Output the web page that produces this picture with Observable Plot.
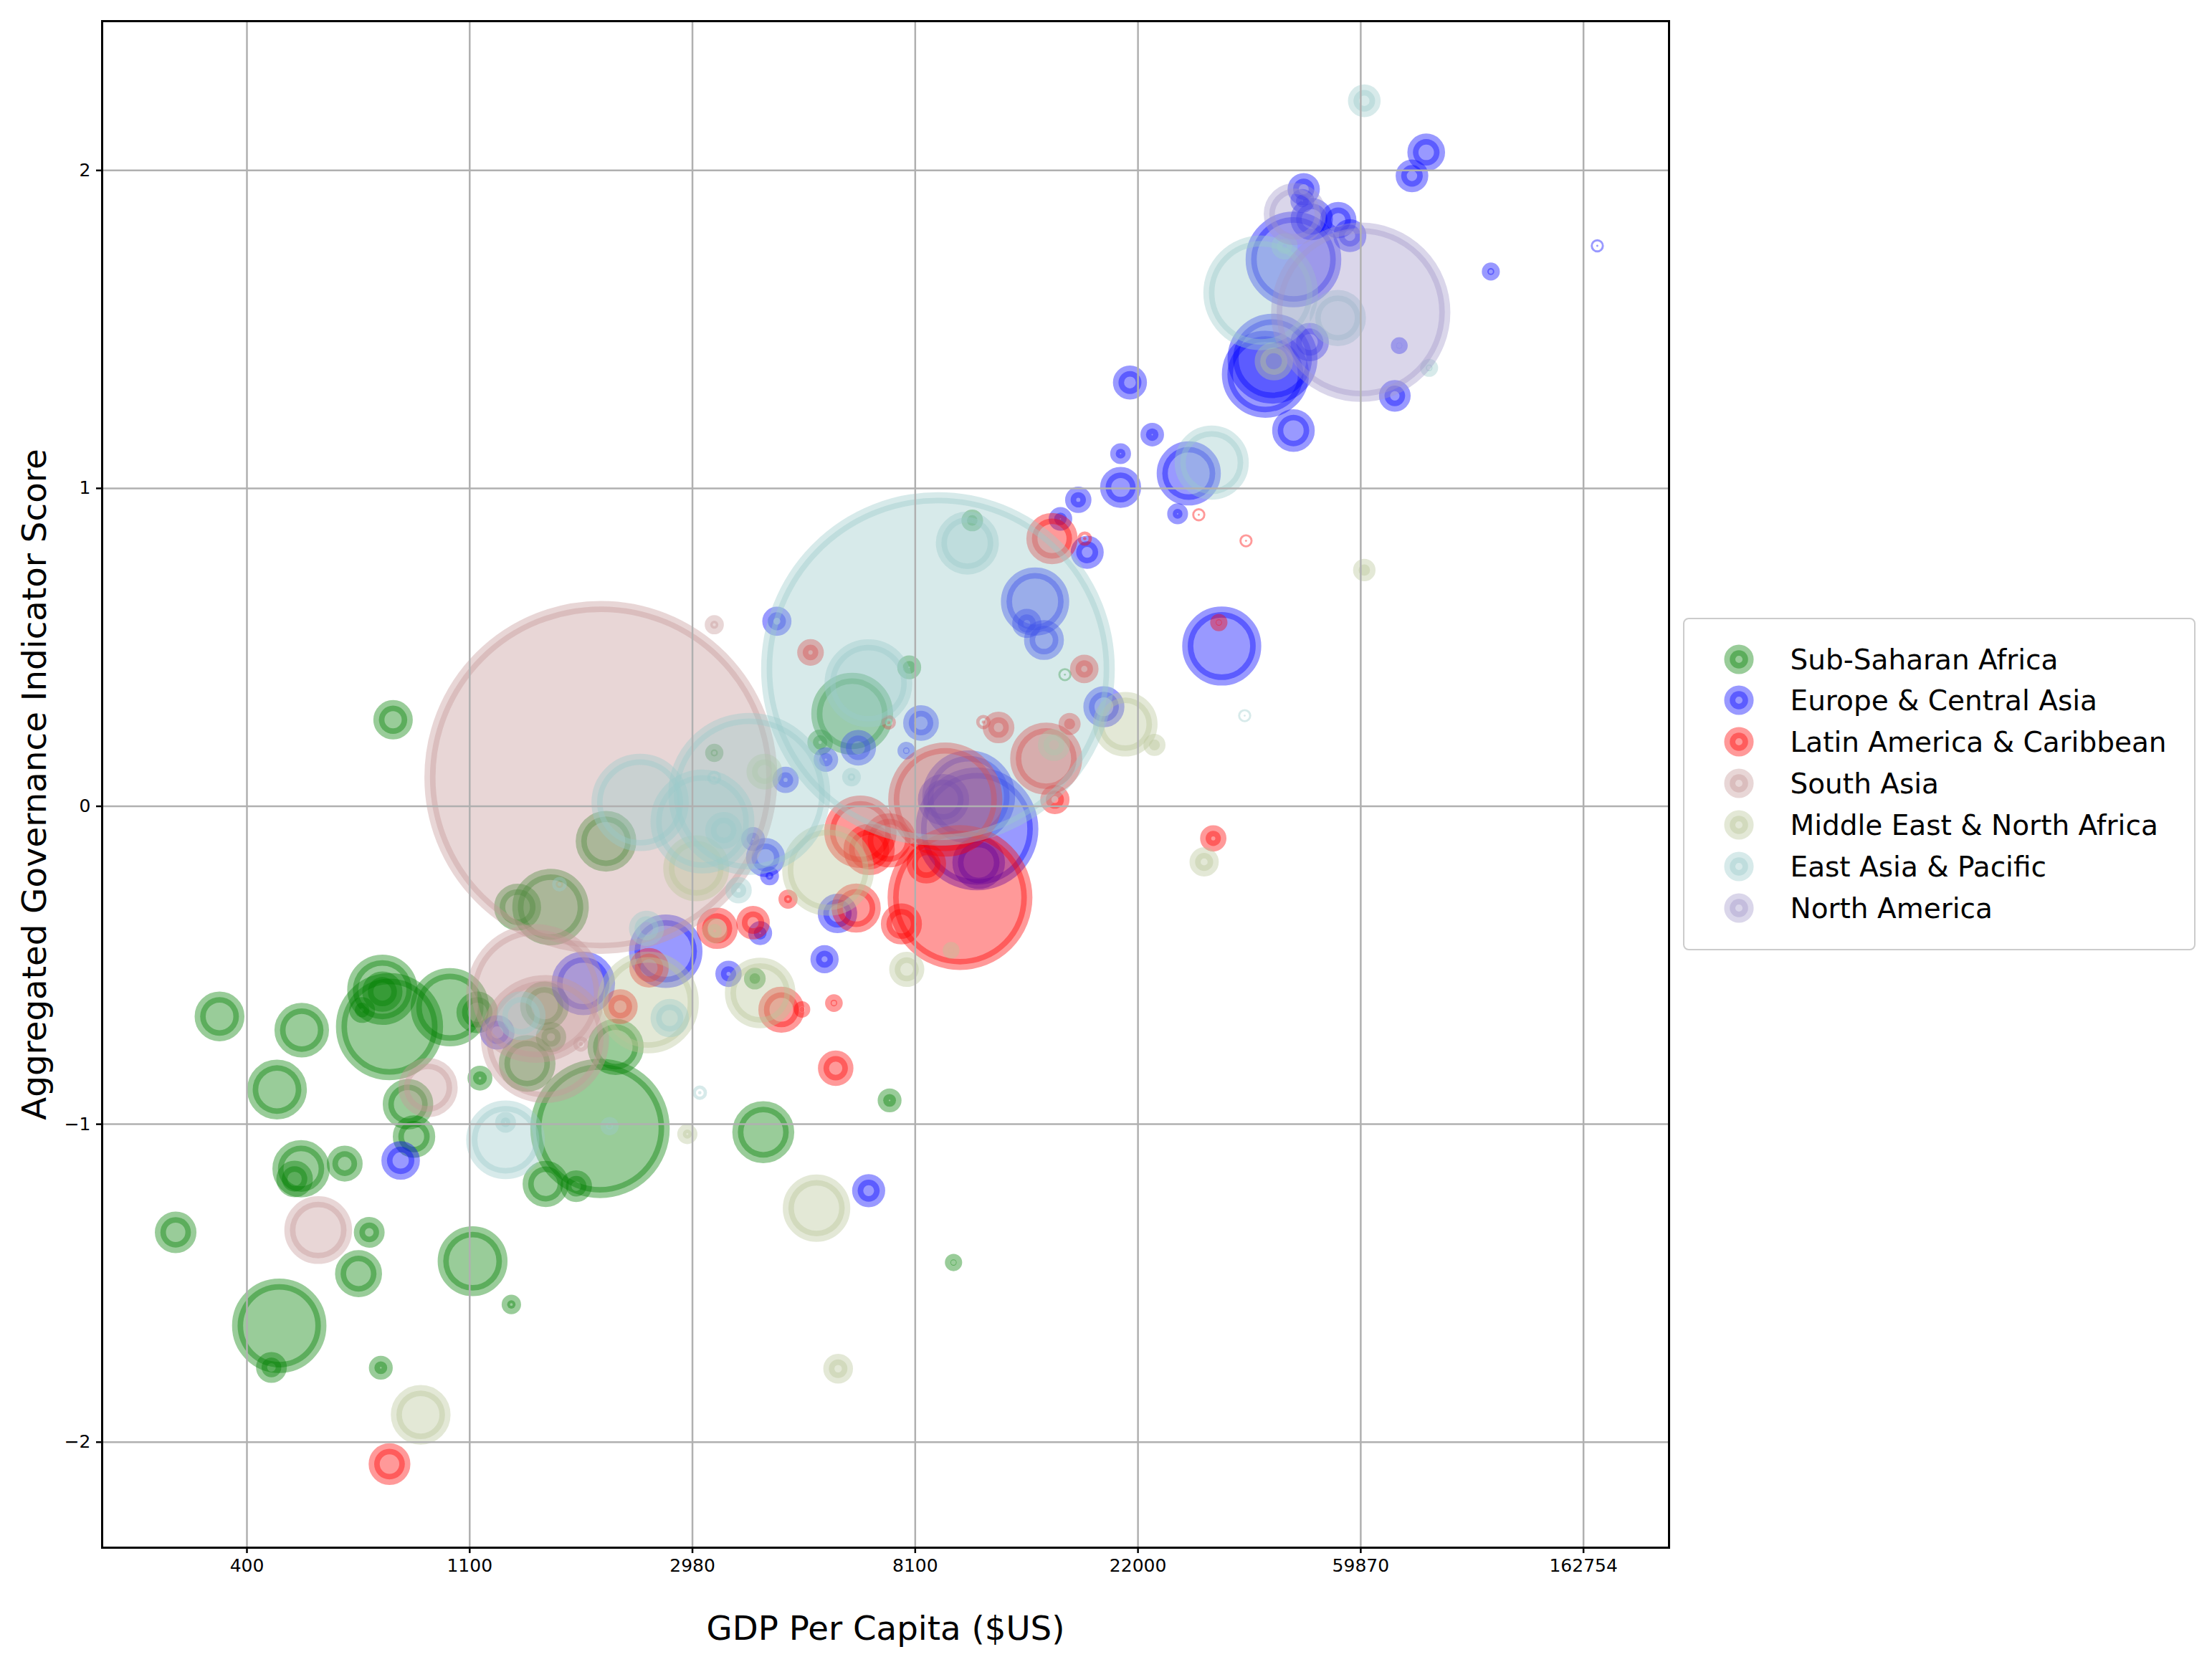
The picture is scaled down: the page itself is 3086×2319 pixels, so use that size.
<!DOCTYPE html>
<html><head><meta charset="utf-8">
<script src="https://cdn.jsdelivr.net/npm/d3@7"></script>
<script src="https://cdn.jsdelivr.net/npm/@observablehq/plot@0.6"></script>
<style>
html,body{margin:0;padding:0;background:#fff;overflow:hidden;}
#wrap{position:relative;width:3086px;height:2319px;font-family:"DejaVu Sans",sans-serif;}
#legend{position:absolute;left:2348px;top:862px;width:715px;height:464px;box-sizing:border-box;border:2.5px solid #cccccc;border-radius:8px;background:#fff;}
#legend span{position:absolute;font-size:39px;line-height:1;white-space:nowrap;color:#000;}
</style></head><body><div id="wrap"></div>
<script>
const regions = ["Sub-Saharan Africa","Europe & Central Asia","Latin America & Caribbean","South Asia","Middle East & North Africa","East Asia & Pacific","North America"];
const regionColors = ["#008000","#0000ff","#ff0000","#c59898","#b9c698","#9bcbcb","#a298ca"];
const xTickValues = [6,7,8,9,10,11,12];
const xTickLabels = ["400","1100","2980","8100","22000","59870","162754"];
const yTickValues = [-2,-1,0,1,2];
const yTickLabels = ["\u22122","\u22121","0","1","2"];

// [ln(GDP per capita), governance score, population (millions)]
const subSaharanAfrica = [
[5.877,-0.661,17.4],[6.246,-0.704,21.9],[6.135,-0.891,27.4],[6.243,-1.140,24.8],[6.214,-1.172,7.5],
[6.439,-1.124,7.1],[5.680,-1.340,10.8],[6.549,-1.340,4.5],[6.501,-1.470,14.9],[6.145,-1.634,80.4],
[6.110,-1.765,4.5],[6.601,-1.766,1.9],[7.013,-1.431,40.0],[7.187,-1.567,0.8],[7.046,-0.855,2.2],
[6.750,-1.039,11.4],[6.723,-0.937,18.0],[7.585,-1.013,190.8],[7.341,-1.188,14.2],[7.478,-1.195,4.9],
[6.640,-0.693,106.9],[6.608,-0.577,40.6],[6.608,-0.583,9.8],[6.517,-0.641,2.5],[6.911,-0.632,52.4],
[7.034,-0.648,10.8],[7.612,-0.110,28.5],[7.363,-0.317,49.5],[7.215,-0.317,14.9],[7.258,-0.809,24.1],
[7.365,-0.726,4.3],[7.336,-0.628,16.5],[7.655,-0.757,23.6],[8.318,-1.025,30.0],[8.280,-0.542,1.3],
[8.098,0.168,0.6],[6.656,0.272,9.3],[8.573,0.201,2.4],[8.717,0.291,57.9],[8.973,0.437,1.9],
[9.256,0.899,1.3],[9.672,0.414,0.05],[8.885,-0.925,1.9],[9.172,-1.435,0.44]
];
const europeCentralAsia = [
[6.690,-1.114,8.7],[7.124,-0.711,6.3],[7.510,-0.557,31.9],[7.880,-0.456,45.1],[8.328,-0.161,9.1],
[8.346,-0.219,0.7],[8.162,-0.527,2.7],[8.304,-0.399,1.9],[8.272,-0.103,1.9],[8.379,0.582,3.8],
[8.418,0.083,2.7],[8.599,0.147,2.1],[8.744,0.184,7.0],[9.026,0.262,7.0],[8.960,0.175,0.5],
[8.651,-0.337,9.3],[8.593,-0.481,3.4],[8.791,-1.209,5.6],[9.240,0.030,77.4],[9.277,-0.071,144.9],
[9.285,-0.177,20.0],[9.127,0.021,18.7],[9.652,0.904,1.8],[9.772,0.799,5.6],[9.732,0.964,2.7],
[9.922,1.003,10.4],[9.922,1.109,1.1],[10.064,1.169,1.8],[10.228,1.047,32.6],[10.178,0.920,1.1],
[10.376,0.504,53.5],[9.538,0.644,37.9],[9.501,0.575,3.8],[9.578,0.523,9.6],[9.847,0.313,10.4],
[9.964,1.333,6.1],[11.294,2.057,8.2],[11.230,1.983,5.4],[11.584,1.682,0.55],[12.062,1.763,0.05],
[11.173,1.449,0.38],[11.153,1.291,4.9],[10.698,1.720,82.9],[10.744,1.941,5.2],[10.738,1.904,1.9],
[10.780,1.847,11.3],[10.899,1.844,7.4],[10.951,1.795,5.6],[10.604,1.408,72.0],[10.572,1.359,66.9],
[10.771,1.460,8.6],[10.698,1.182,11.5]
];
const latinAmericaCaribbean = [
[6.640,-2.069,10.9],[7.805,-0.508,9.3],[7.676,-0.630,6.5],[8.111,-0.384,10.5],[8.272,-0.366,5.8],
[8.429,-0.292,0.75],[8.399,-0.640,14.1],[8.492,-0.639,0.33],[8.635,-0.619,0.5],[8.735,-0.320,16.8],
[8.643,-0.824,6.9],[8.754,-0.080,43.4],[8.793,-0.136,18.7],[8.883,-0.107,21.4],[8.938,-0.370,10.4],
[9.050,-0.181,9.3],[9.135,0.021,123.1],[9.201,-0.287,207.3],[9.627,0.021,3.8],[9.588,0.150,43.0],
[9.614,0.842,18.7],[9.761,0.842,0.13],[8.530,0.484,2.8],[8.881,0.264,0.13],[9.374,0.248,4.9],
[9.306,0.265,0.13],[9.693,0.259,1.4],[9.759,0.432,3.5],[10.273,0.917,0.05],[10.485,0.835,0.05],
[10.363,0.578,0.44],[10.338,-0.101,2.7]
];
const southAsia = [
[7.589,0.091,1354.6],[7.296,-0.589,188.6],[7.338,-0.732,158.6],[6.813,-0.885,26.9],[6.320,-1.333,37.2],
[7.499,-0.748,0.2],[8.098,0.571,0.75]
];
const middleEastNorthAfrica = [
[6.780,-1.914,27.4],[7.800,-0.617,95.4],[8.017,-0.195,34.9],[8.323,0.109,7.1],[8.100,-0.392,2.3],
[8.304,-0.587,41.0],[7.977,-1.031,0.95],[8.609,-0.200,75.5],[8.962,-0.513,6.7],[8.557,-1.264,36.8],
[8.654,-1.769,4.0],[9.161,-0.453,0.38],[9.623,0.193,5.1],[9.943,0.258,33.1],[10.074,0.193,1.4],
[10.297,-0.175,3.8],[11.016,0.743,1.5],[10.610,1.400,8.6]
];
const eastAsiaPacific = [
[9.102,0.432,1360],[8.255,0.039,264],[7.765,0.012,86],[8.045,-0.048,99.7],[7.161,-1.049,52.8],
[7.161,-0.994,1.1],[7.628,-1.006,0.6],[7.403,-0.245,0.15],[7.231,-0.659,16.5],[7.794,-0.384,6.7],
[7.898,-0.666,8.6],[8.033,-0.901,0.13],[8.207,-0.264,2.7],[8.098,0.090,0.1],[8.140,-0.076,7.7],
[8.714,0.092,0.67],[8.790,0.387,68.2],[9.234,0.828,31.2],[10.331,1.081,46.1],[10.551,1.615,124.5],
[10.897,1.536,23.6],[11.016,2.219,5.4],[11.307,1.379,0.55],[10.479,0.285,0.05],[10.658,1.761,2.7]
];
const northAmerica = [
[11.000,1.554,327.7],[10.704,1.863,30.2]
];

const series = [subSaharanAfrica, europeCentralAsia, latinAmericaCaribbean, southAsia, middleEastNorthAfrica, eastAsiaPacific, northAmerica];
const table = series.flatMap((rows, i) => rows.map(([lnGdp, score, pop]) => ({region: regions[i], lnGdp, score, pop})));

const chart = Plot.plot({
  width: 3086, height: 2319,
  marginLeft: 142, marginRight: 758, marginTop: 29, marginBottom: 160,
  style: {fontFamily: "DejaVu Sans", fontSize: "25px", background: "white", color: "black", overflow: "visible"},
  x: {domain: [5.35, 12.384]},
  y: {domain: [-2.332, 2.4696]},
  r: {type: "sqrt", domain: [0, 1400], range: [0, 242.46]},
  color: {domain: regions, range: regionColors},
  marks: [
    Plot.dot(table, {x: "lnGdp", y: "score", r: "pop", fill: "region", stroke: "region",
      fillOpacity: 0.4, strokeOpacity: 0.4, strokeWidth: 15.5, sort: null}),
    Plot.gridX(xTickValues, {stroke: "#b0b0b0", strokeOpacity: 1, strokeWidth: 2.5}),
    Plot.gridY(yTickValues, {stroke: "#b0b0b0", strokeOpacity: 1, strokeWidth: 2.5}),
    Plot.axisX(xTickValues, {tickFormat: d => xTickLabels[xTickValues.indexOf(d)], tickSize: 8, tickPadding: 8,
      strokeWidth: 2.5, fontSize: 25, label: null}),
    Plot.axisY(yTickValues, {tickFormat: d => yTickLabels[yTickValues.indexOf(d)], tickSize: 8, tickPadding: 8,
      strokeWidth: 2.5, fontSize: 25, label: null}),
    Plot.frame({stroke: "black", strokeWidth: 3}),
    Plot.text(["GDP Per Capita ($US)"], {frameAnchor: "bottom", dy: 114, lineAnchor: "middle", textAnchor: "middle", fontSize: 46.7}),
    Plot.text(["Aggregated Governance Indicator Score"], {frameAnchor: "left", dx: -93, rotate: -90, lineAnchor: "middle", textAnchor: "middle", fontSize: 46.7})
  ]
});
const wrap = document.getElementById("wrap");
wrap.appendChild(chart);

const legend = d3.select(wrap).append("div").attr("id", "legend");
regions.forEach((name, i) => {
  const cy = 58 - 2.5 + 57.95 * i;
  const svg = legend.append("svg").attr("width", 50).attr("height", 50)
    .style("position", "absolute").style("left", (78 - 2.5 - 25) + "px").style("top", (cy - 25) + "px");
  svg.append("circle").attr("cx", 25).attr("cy", 25).attr("r", 12.8)
    .attr("fill", regionColors[i]).attr("fill-opacity", 0.4)
    .attr("stroke", regionColors[i]).attr("stroke-opacity", 0.4).attr("stroke-width", 15.5);
  legend.append("span").text(name)
    .style("left", (150 - 2.5) + "px").style("top", cy + "px").style("transform", "translateY(-50%)");
});
</script></body></html>
